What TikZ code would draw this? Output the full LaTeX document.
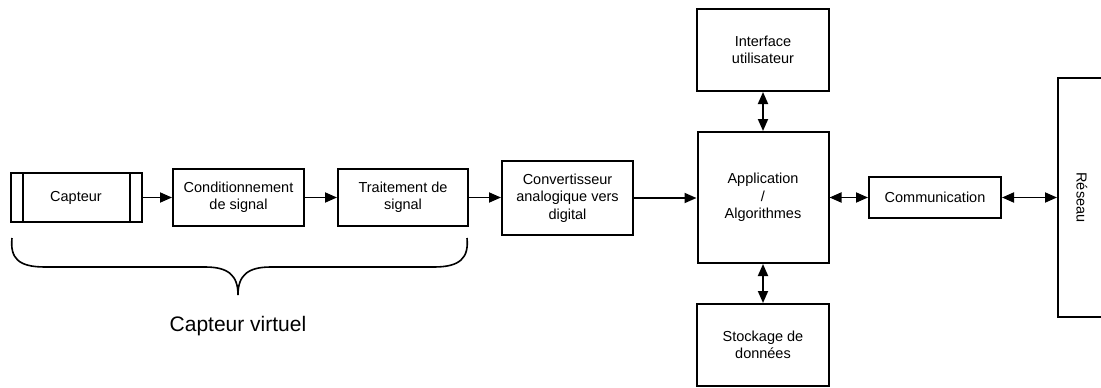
\documentclass[tikz,border=0pt]{standalone}
\usepackage{fontspec}
\setmainfont{Liberation Sans}
\usetikzlibrary{arrows.meta}
\begin{document}
\begin{tikzpicture}[x=1pt,y=-1pt,
  block/.style={draw, line width=2pt, align=center, inner sep=0pt,
    font=\fontsize{14.5}{17.3}\selectfont},
  tip/.style={Triangle[length=12pt,width=10pt]},
  link/.style={line width=1.8pt, -{Triangle[length=12pt,width=10pt]}},
  duplex/.style={line width=1.8pt, {Triangle[length=12pt,width=10pt]}-{Triangle[length=12pt,width=10pt]}}]
\useasboundingbox (0,0) rectangle (1101,388);
\clip (0,0) rectangle (1101,388);

% signal chain
\node[block, minimum width=131pt, minimum height=49pt] (capteur) at (76,197.5) {Capteur};
\draw[line width=2pt] ([xshift=13pt]capteur.north west) -- ([xshift=13pt]capteur.south west);
\draw[line width=2pt] ([xshift=-13pt]capteur.north east) -- ([xshift=-13pt]capteur.south east);
\node[block, minimum width=131pt, minimum height=57pt] (cond) at (238.5,197.5) {Conditionnement\\de signal};
\node[block, minimum width=130pt, minimum height=57pt] (trait) at (403,197.5) {Traitement de\\signal};
\node[block, minimum width=131pt, minimum height=74pt] (conv) at (567.5,198) {Convertisseur\\analogique vers\\digital};

% processing core and peripherals
\node[block, minimum width=131pt, minimum height=131pt] (app) at (763,197.5) {Application\\/\\Algorithmes};
\node[block, minimum width=132pt, minimum height=82pt] (ui) at (763,50) {Interface\\utilisateur};
\node[block, minimum width=132pt, minimum height=82pt] (stock) at (763,345) {Stockage de\\données};
\node[block, minimum width=132pt, minimum height=41pt] (comm) at (935,197.5) {Communication};
\node[block, minimum width=48pt, minimum height=239pt] (reseau) at (1082,197.5) {};
\node[rotate=-90, font=\fontsize{14.5}{17.3}\selectfont] (reseaulbl) at (reseau.center) {Réseau};

% connectors
\draw[link] (capteur.east) -- (cond.west);
\draw[link] (cond.east) -- (trait.west);
\draw[link] (trait.east) -- (trait.east -| conv.west);
\draw[link] (conv.east) -- (conv.east -| app.west);
\draw[duplex] (ui.south) -- (app.north);
\draw[duplex] (app.south) -- (stock.north);
\draw[duplex] (app.east |- comm.west) -- (comm.west);
\draw[duplex] (comm.east) -- (comm.east -| reseau.west);

% brace grouping the virtual sensor
\coordinate (bl) at (12,238);
\coordinate (br) at (467,238);
\coordinate (bracetip) at (238,295);
\draw[line width=1.6pt]
  (bl) .. controls (10,258) and (18,267) .. (45,267)
  -- (205,267) .. controls (228,267) and (238,275) .. (bracetip)
  .. controls (238,275) and (248,267) .. (271,267)
  -- (434,267) .. controls (460,267) and (469,258) .. (br);
\node[font=\fontsize{21}{24}\selectfont] (virt) at (238,326) {Capteur virtuel};
\end{tikzpicture}
\end{document}
